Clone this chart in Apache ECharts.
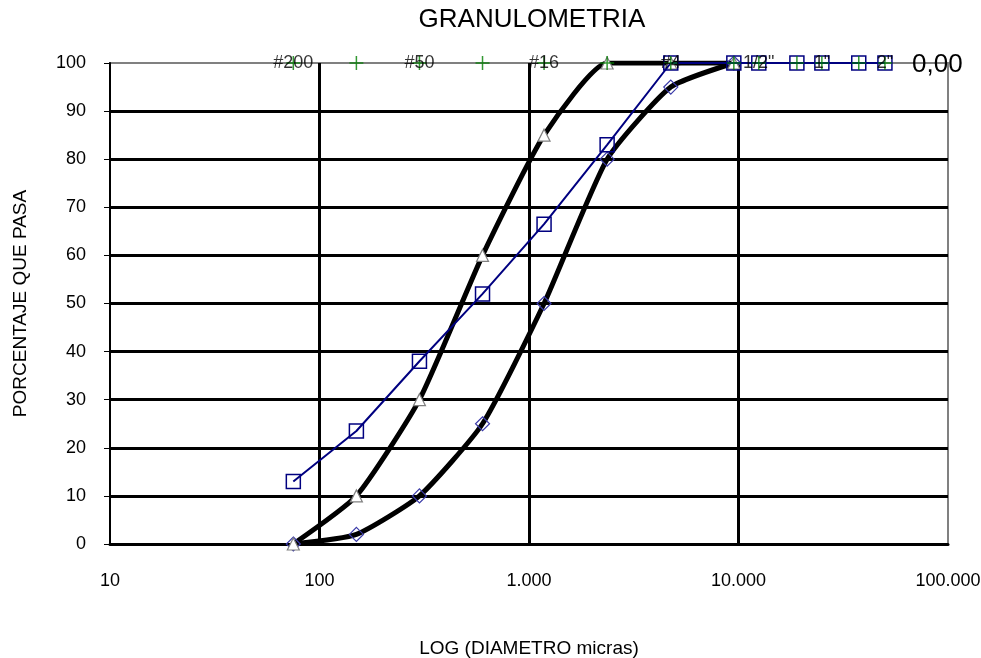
<!DOCTYPE html>
<html><head><meta charset="utf-8">
<script src="https://cdn.jsdelivr.net/npm/echarts@6/dist/echarts.min.js"></script>
<style>html,body{margin:0;padding:0;background:#fff}#c{width:981px;height:658px}</style>
</head><body><div id="c"></div>
<script>
// Sieve sizes (micras)
const sieveSizes = [75, 150, 300, 600, 1180, 2360, 4750, 9500, 12500, 19000, 25000, 37500, 50000];
const sieveNames = ['#200', '', '#50', '', '#16', '', '#4', '', '1/2"', '', '1"', '', '2"'];
const sievePct = [100, 100, 100, 100, 100, 100, 100, 100, 100, 100, 100, 100, 100];
// Envelope sizes
const envSizes = [75, 150, 300, 600, 1180, 2360, 4750, 9500];
const lowerEnv = [0, 2, 10, 25, 50, 80, 95, 100];
const upperEnv = [0, 10, 30, 60, 85, 100, 100, 100];
// Sample curve
const sampleSizes = [75, 150, 300, 600, 1180, 2360, 4750, 9500, 12500, 19000, 25000, 37500, 50000];
const samplePct = [13, 23.5, 38, 52, 66.5, 83, 100, 100, 100, 100, 100, 100, 100];
const yTicks = [0, 10, 20, 30, 40, 50, 60, 70, 80, 90, 100];

const zip = (xs, ys) => xs.map((x, i) => [x, ys[i]]);
const FONT = 'Liberation Sans';

const chart = echarts.init(document.getElementById('c'));
chart.setOption({
  animation: false,
  backgroundColor: '#fff',
  textStyle: {fontFamily: FONT},
  grid: {left: 110, right: 33, top: 63, bottom: 114, outerBoundsMode: 'none', containLabel: false,
    show: true, borderColor: '#808080', borderWidth: 2, backgroundColor: '#fff'},
  graphic: [
    {type: 'text', x: 532, y: 20, style: {text: 'GRANULOMETRIA', font: '26px "Liberation Sans"', fill: '#000', textAlign: 'center', textVerticalAlign: 'middle'}},
    {type: 'text', x: 912, y: 65, style: {text: '0,00', font: '26px "Liberation Sans"', fill: '#000', textAlign: 'left', textVerticalAlign: 'middle'}, z: 100}
  ],
  xAxis: {
    type: 'log', logBase: 10, min: 10, max: 100000,
    name: 'LOG (DIAMETRO micras)', nameLocation: 'middle', nameGap: 95,
    nameTextStyle: {fontSize: 19, color: '#000', fontFamily: FONT},
    axisLine: {show: true, onZero: false, lineStyle: {color: '#000', width: 3}},
    axisTick: {show: false},
    axisLabel: {color: '#000', fontSize: 18, margin: 28, fontFamily: FONT,
      formatter: v => String(Math.round(v)).replace(/\B(?=(\d{3})+(?!\d))/g, '.')},
    splitLine: {show: true, showMinLine: false, showMaxLine: false, lineStyle: {color: '#000', width: 3}}
  },
  yAxis: {
    type: 'value', min: yTicks[0], max: yTicks[yTicks.length - 1], interval: 10,
    name: 'PORCENTAJE QUE PASA', nameLocation: 'middle', nameGap: 80,
    nameTextStyle: {fontSize: 19, color: '#000', fontFamily: FONT},
    axisLine: {show: true, lineStyle: {color: '#000', width: 2}},
    axisTick: {show: true, length: 6, lineStyle: {color: '#000', width: 1}},
    axisLabel: {color: '#000', fontSize: 18, margin: 24, fontFamily: FONT},
    splitLine: {show: true, showMinLine: false, showMaxLine: false, lineStyle: {color: '#000', width: 3}}
  },
  series: [
    {
      type: 'line', data: zip(envSizes, lowerEnv), smooth: 0.18, z: 3,
      lineStyle: {color: '#000', width: 5},
      symbol: 'diamond', symbolSize: 14, showAllSymbol: true,
      itemStyle: {color: 'transparent', borderColor: '#3a3aa8', borderWidth: 1.2}
    },
    {
      type: 'line', data: zip(envSizes, upperEnv), smooth: 0.18, z: 3,
      lineStyle: {color: '#000', width: 5},
      symbol: 'triangle', symbolSize: 12, showAllSymbol: true,
      itemStyle: {color: '#fff', borderColor: '#808080', borderWidth: 1.2}
    },
    {
      type: 'line', data: zip(sampleSizes, samplePct), z: 4,
      lineStyle: {color: '#000080', width: 2},
      symbol: 'rect', symbolSize: 14, showAllSymbol: true,
      itemStyle: {color: 'transparent', borderColor: '#000080', borderWidth: 1.5}
    },
    {
      type: 'scatter', z: 5,
      data: sieveSizes.map((s, i) => ({name: sieveNames[i], value: [s, sievePct[i]]})),
      symbol: 'path://M5,0L5,10M0,5L10,5', symbolSize: 14,
      itemStyle: {color: 'transparent', borderColor: '#008000', borderWidth: 1.5},
      label: {show: true, position: 'inside', formatter: p => p.name, color: '#000', fontSize: 18, fontFamily: FONT}
    }
  ]
});
</script></body></html>
